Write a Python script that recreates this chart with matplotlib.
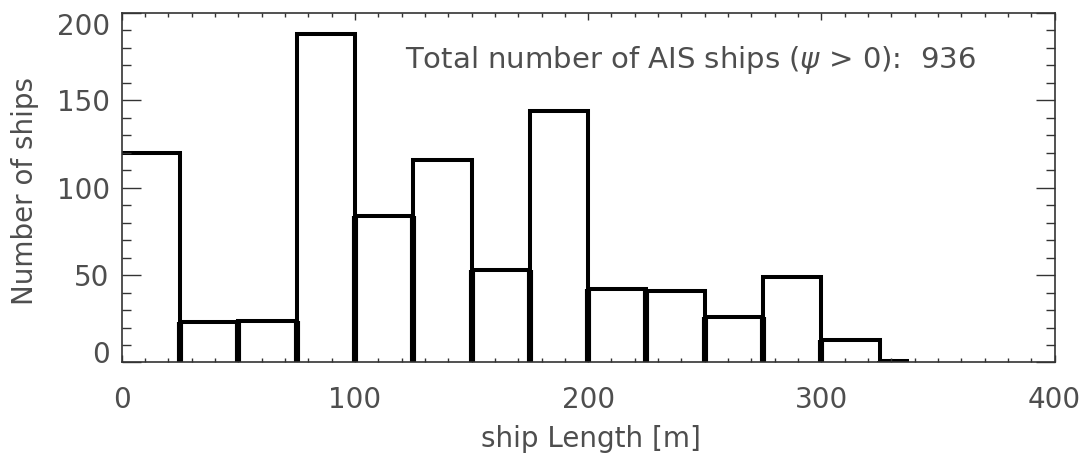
import numpy as np
import matplotlib
matplotlib.use("Agg")
import matplotlib.pyplot as plt
import matplotlib.transforms as mtransforms

# histogram of ship lengths (25 m bins, last one half width)
bin_edges = [0, 25, 50, 75, 100, 125, 150, 175, 200, 225, 250, 275, 300, 325, 337.5]
counts = [120, 23, 24, 188, 84, 116, 53, 144, 42, 41, 26, 49, 13, 1]
total_ships = 936

x_ticks = [0, 100, 200, 300, 400]
y_ticks = [0, 50, 100, 150, 200]

plt.rcParams['font.family'] = ['DejaVu Sans']
txt_col = '#4e4e4e'
fs = 20

fig = plt.figure(figsize=(10.91, 4.56), dpi=100)
ax = fig.add_axes([0.1115, 0.2029, 0.8552, 0.7664])

# step outline
ax.stairs(counts, bin_edges, baseline=None, color='black', linewidth=2.9,
          joinstyle='miter')
# thick verticals down to zero at each inner edge
for i in range(1, len(counts)):
    low = min(counts[i - 1], counts[i])
    ax.vlines(bin_edges[i], 0, low, color='black', linewidth=4.4)

ax.set_xlim(0, 400)
ax.set_ylim(0, 200)

ax.set_xticks(x_ticks)
ax.set_xticks(np.arange(0, 401, 10), minor=True)
ax.set_yticks(y_ticks)
ax.set_yticks(np.arange(0, 201, 10), minor=True)
ax.tick_params(which='both', direction='in', top=True, right=True, colors='#333333', width=1.0)
ax.tick_params(axis='x', which='major', length=5.2, labelsize=fs, pad=16, labelcolor=txt_col)
ax.tick_params(axis='x', which='minor', length=2.6)
ax.tick_params(axis='y', which='major', length=13.5)
ax.tick_params(axis='y', which='minor', length=6.8)
ax.set_xticklabels([str(v) for v in x_ticks])
ax.set_yticklabels([])

# y labels drawn by hand (IDL nudges the end labels inwards)
shift = {0: 8.5, 200: -13}
for v in y_ticks:
    off = mtransforms.ScaledTranslation(-12 / 100, shift.get(v, -2) / 100, fig.dpi_scale_trans)
    tr = mtransforms.blended_transform_factory(ax.transAxes, ax.transData) + off
    ax.text(0, v, str(v), transform=tr, ha='right', va='center', fontsize=fs, color=txt_col)

for s in ax.spines.values():
    s.set_linewidth(1.2)
    s.set_color('#333333')

ax.set_xlabel('ship Length [m]', fontsize=fs, color=txt_col, va='baseline')
ax.xaxis.set_label_coords(0.503, -0.238)
ax.set_ylabel('Number of ships', fontsize=fs, color=txt_col, va='center')
ax.yaxis.set_label_coords(-0.104, 0.494)

ax.text(121.4, 169, 'Total number of AIS ships ($\\psi$ > 0):  %d' % total_ships,
        fontsize=21, color=txt_col, va='baseline', ha='left')

fig.savefig('out.png', dpi=100)
